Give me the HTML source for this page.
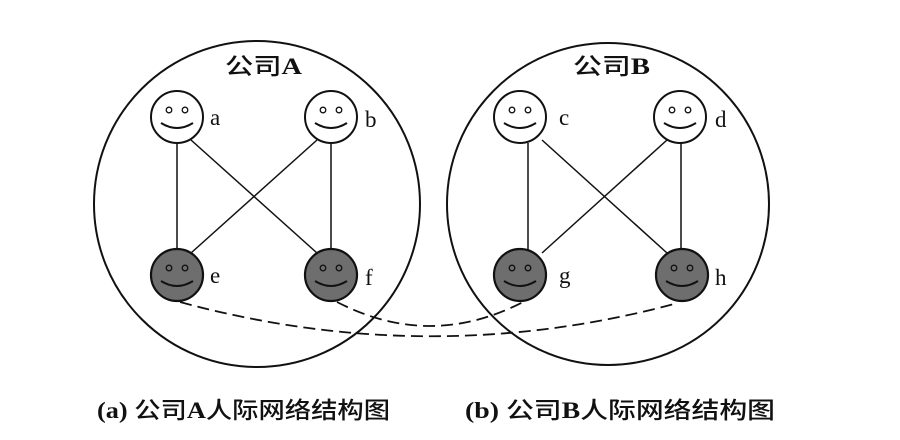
<!DOCTYPE html>
<html><head><meta charset="utf-8"><style>
body{margin:0;background:#fff;}
svg{display:block}
text{font-family:"Liberation Serif","Noto Serif CJK SC",serif;fill:#111}
.cj{font-family:"Liberation Serif","Noto Sans CJK SC",sans-serif;font-weight:500}
.cj tspan.l{font-weight:bold}
</style></head><body>
<svg width="900" height="440" viewBox="0 0 900 440" xmlns="http://www.w3.org/2000/svg">
<defs>
<g id="smw"><circle r="26" fill="#fff" stroke="#111" stroke-width="2"/><circle cx="-8" cy="-7" r="2.8" fill="none" stroke="#111" stroke-width="1.3"/><circle cx="8" cy="-7" r="2.8" fill="none" stroke="#111" stroke-width="1.3"/><path d="M-16 6 Q0 16 16 6" fill="none" stroke="#111" stroke-width="2"/></g>
<g id="smd"><circle r="26" fill="#6e6e6e" stroke="#111" stroke-width="2.2"/><circle cx="-8" cy="-7" r="2.8" fill="none" stroke="#111" stroke-width="1.3"/><circle cx="8" cy="-7" r="2.8" fill="none" stroke="#111" stroke-width="1.3"/><path d="M-16 6 Q0 16 16 6" fill="none" stroke="#111" stroke-width="2"/></g>
</defs>
<circle cx="257" cy="204" r="163" fill="none" stroke="#111" stroke-width="2"/>
<circle cx="608" cy="204" r="161" fill="none" stroke="#111" stroke-width="2"/>
<g stroke="#111" stroke-width="1.5" fill="none">
<line x1="177" y1="143" x2="177" y2="250"/>
<line x1="331" y1="143" x2="331" y2="250"/>
<line x1="191" y1="140" x2="317" y2="253"/>
<line x1="317" y1="140" x2="191" y2="253"/>
<line x1="528" y1="143" x2="528" y2="250"/>
<line x1="681" y1="143" x2="681" y2="250"/>
<line x1="542" y1="140" x2="667" y2="253"/>
<line x1="667" y1="140" x2="542" y2="253"/>
<path d="M180 302 Q430 370 678 303" stroke-dasharray="12 6" stroke-width="1.8"/>
<path d="M337 302 Q430 350 523 302" stroke-dasharray="12 6" stroke-width="1.8"/>
</g>
<use href="#smw" x="177" y="117"/><use href="#smw" x="331" y="117"/>
<use href="#smd" x="177" y="275"/><use href="#smd" x="331" y="275"/>
<use href="#smw" x="520" y="117"/><use href="#smw" x="680" y="117"/>
<use href="#smd" x="520" y="275"/><use href="#smd" x="682" y="275"/>
<g font-size="23">
<text x="210" y="125">a</text><text x="365" y="127">b</text>
<text x="210" y="283">e</text><text x="365" y="285">f</text>
<text x="559" y="125">c</text><text x="715" y="127">d</text>
<text x="559" y="283">g</text><text x="715" y="285">h</text>
</g>
<text class="cj" x="225" y="74" font-size="23" textLength="77" lengthAdjust="spacingAndGlyphs">公司<tspan class="l">A</tspan></text>
<text class="cj" x="573" y="74" font-size="23" textLength="77" lengthAdjust="spacingAndGlyphs">公司<tspan class="l">B</tspan></text>
<text class="cj" x="97" y="418" font-size="23" textLength="293" lengthAdjust="spacingAndGlyphs"><tspan class="l">(a)</tspan> 公司<tspan class="l">A</tspan>人际网络结构图</text>
<text class="cj" x="465" y="418" font-size="23" textLength="310" lengthAdjust="spacingAndGlyphs"><tspan class="l">(b)</tspan> 公司<tspan class="l">B</tspan>人际网络结构图</text>
</svg>
</body></html>
